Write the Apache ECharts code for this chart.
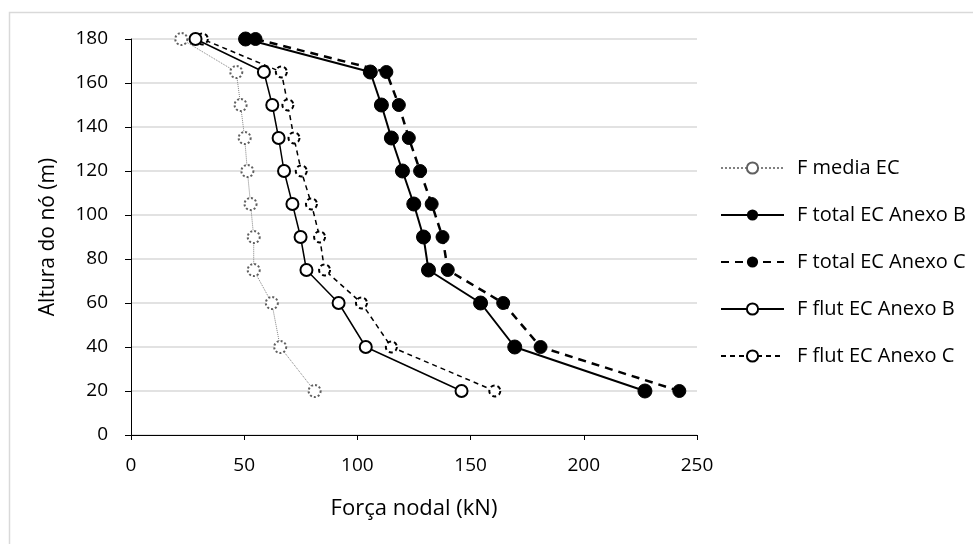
<!DOCTYPE html>
<html>
<head>
<meta charset="utf-8">
<script src="https://cdn.jsdelivr.net/npm/echarts@6/dist/echarts.min.js"></script>
<style>
  html, body { margin: 0; padding: 0; background: #fff; }
  #chart { width: 973px; height: 544px; }
</style>
</head>
<body>
<div id="chart"></div>
<script>
// Node heights (m), bottom to top
const heights = [20, 40, 60, 75, 90, 105, 120, 135, 150, 165, 180];

// Nodal forces (kN) at each height
const fMediaEC      = [81.1, 65.9, 62.2, 54.2, 54.2, 52.8, 51.4, 50.2, 48.4, 46.5, 22.2];
const fTotalAnexoB  = [227.0, 169.5, 154.4, 131.4, 129.2, 124.9, 119.9, 115.0, 110.6, 105.7, 50.6];
const fTotalAnexoC  = [242.2, 180.9, 164.4, 139.9, 137.6, 132.8, 127.7, 122.7, 118.3, 112.8, 55.0];
const fFlutAnexoB   = [146.0, 103.7, 91.7, 77.5, 74.9, 71.3, 67.6, 65.2, 62.4, 58.7, 28.5];
const fFlutAnexoC   = [160.7, 115.0, 101.8, 85.5, 83.3, 79.7, 75.2, 72.0, 69.3, 66.4, 31.5];

const seriesNames = [
  'F media EC',
  'F total EC Anexo B',
  'F total EC Anexo C',
  'F flut EC Anexo B',
  'F flut EC Anexo C'
];

const pairs = (xs) => xs.map((x, i) => [x, heights[i]]);

const FONT = '"Open Sans", "Noto Sans", sans-serif';

const chart = echarts.init(document.getElementById('chart'), null, { renderer: 'canvas' });

chart.setOption({
  backgroundColor: '#ffffff',
  animation: false,
  graphic: [{
    type: 'rect',
    left: 7, top: 10,
    shape: { width: 1000, height: 600 },
    style: { fill: 'none', stroke: '#d9d9d9', lineWidth: 1.5 },
    silent: true
  }],
  grid: { left: 131, right: 276, top: 39, bottom: 109 },
  legend: {
    orient: 'vertical',
    left: 715,
    top: 153,
    itemWidth: 63,
    itemHeight: 14,
    itemGap: 27,
    textStyle: { fontFamily: FONT, fontSize: 20, color: '#000', padding: [0, 0, 0, 8] },
    data: seriesNames
  },
  xAxis: {
    type: 'value',
    min: 0, max: 250, interval: 50,
    name: 'Força nodal (kN)',
    nameLocation: 'middle',
    nameGap: 63,
    nameTextStyle: { fontFamily: FONT, fontSize: 22, color: '#000' },
    axisLine: { show: true, lineStyle: { color: '#000', width: 1 } },
    axisTick: { show: true, inside: false, length: 5, lineStyle: { color: '#000' } },
    axisLabel: { fontFamily: FONT, fontSize: 19, color: '#000', margin: 21 },
    splitLine: { show: false }
  },
  yAxis: {
    type: 'value',
    min: 0, max: 180, interval: 20,
    name: 'Altura do nó (m)',
    nameLocation: 'middle',
    nameGap: 72,
    nameTextStyle: { fontFamily: FONT, fontSize: 21, color: '#000' },
    axisLine: { show: true, lineStyle: { color: '#000', width: 1 } },
    axisTick: { show: true, inside: false, length: 6, lineStyle: { color: '#000' } },
    axisLabel: { fontFamily: FONT, fontSize: 19, color: '#000', margin: 23 },
    splitLine: { show: true, lineStyle: { color: '#d9d9d9', width: 1.5 } }
  },
  series: [
    {
      name: seriesNames[0],
      type: 'line',
      data: pairs(fMediaEC),
      symbol: 'emptyCircle',
      symbolSize: 12,
      lineStyle: { color: '#808080', width: 1, type: 'dotted' },
      itemStyle: { color: '#606060', borderColor: '#606060', borderWidth: 1.2, borderType: 'dotted' },
      z: 2
    },
    {
      name: seriesNames[1],
      type: 'line',
      data: pairs(fTotalAnexoB),
      symbol: 'circle',
      symbolSize: 14,
      lineStyle: { color: '#000', width: 2 },
      itemStyle: { color: '#000', borderColor: '#000' },
      z: 4
    },
    {
      name: seriesNames[2],
      type: 'line',
      data: pairs(fTotalAnexoC),
      symbol: 'circle',
      symbolSize: 13,
      lineStyle: { color: '#000', width: 2.5, type: [8, 6] },
      itemStyle: { color: '#000', borderColor: '#000' },
      z: 3
    },
    {
      name: seriesNames[3],
      type: 'line',
      data: pairs(fFlutAnexoB),
      symbol: 'emptyCircle',
      symbolSize: 12,
      lineStyle: { color: '#000', width: 1.5 },
      itemStyle: { color: '#000', borderColor: '#000', borderWidth: 2 },
      z: 4
    },
    {
      name: seriesNames[4],
      type: 'line',
      data: pairs(fFlutAnexoC),
      symbol: 'emptyCircle',
      symbolSize: 11,
      lineStyle: { color: '#000', width: 1.5, type: [5, 4] },
      itemStyle: { color: '#000', borderColor: '#000', borderWidth: 1.5, borderType: [4, 3] },
      z: 3
    }
  ]
});
</script>
</body>
</html>
